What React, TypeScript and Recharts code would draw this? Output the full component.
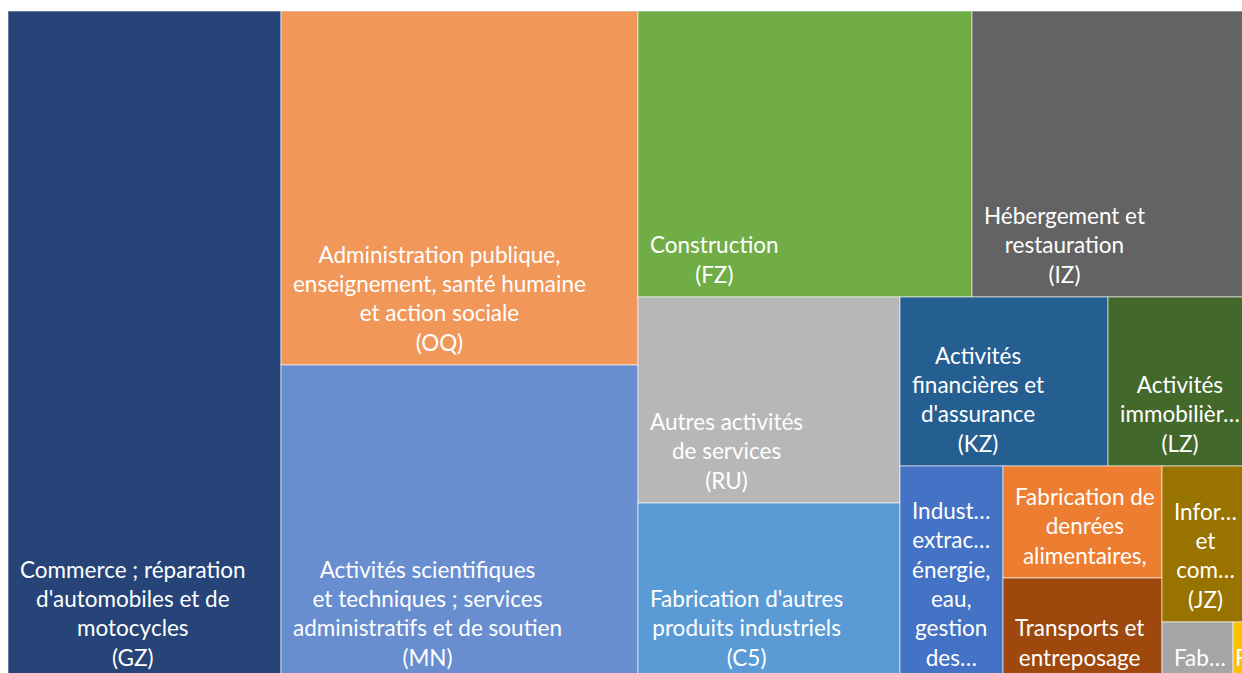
import React from "react";
import { Treemap } from "recharts";

// secteurs (codes A17), dans l'ordre du plus grand au plus petit
const codes = ["GZ", "OQ", "MN", "FZ", "IZ", "RU", "C5", "KZ", "LZ", "DE", "C1", "HZ", "JZ", "C3", "C4"];

const names = [
  "Commerce ; réparation d'automobiles et de motocycles",
  "Administration publique, enseignement, santé humaine et action sociale",
  "Activités scientifiques et techniques ; services administratifs et de soutien",
  "Construction",
  "Hébergement et restauration",
  "Autres activités de services",
  "Fabrication d'autres produits industriels",
  "Activités financières et d'assurance",
  "Activités immobilières",
  "Industries extractives, énergie, eau, gestion des déchets et dépollution",
  "Fabrication de denrées alimentaires, boissons et produits à base de tabac",
  "Transports et entreposage",
  "Information et communication",
  "Fabrication d'équipements électriques, électroniques, informatiques ; fabrication de machines",
  "Fabrication de matériels de transport",
];

const values = [1826, 1264, 1125, 955, 801, 540, 464, 352, 243, 220, 178, 162, 140, 41, 9];

// libellés tels qu'affichés (retours à la ligne et troncatures)
const labelLines = [
  ["Commerce ; réparation", "d'automobiles et de", "motocycles", "(GZ)"],
  ["Administration publique,", "enseignement, santé humaine", "et action sociale", "(OQ)"],
  ["Activités scientifiques", "et techniques ; services", "administratifs et de soutien", "(MN)"],
  ["Construction", "(FZ)"],
  ["Hébergement et", "restauration", "(IZ)"],
  ["Autres activités", "de services", "(RU)"],
  ["Fabrication d'autres", "produits industriels", "(C5)"],
  ["Activités", "financières et", "d'assurance", "(KZ)"],
  ["Activités", "immobilièr…", "(LZ)"],
  ["Indust…", "extrac…", "énergie,", "eau,", "gestion", "des…"],
  ["Fabrication de", "denrées", "alimentaires,"],
  ["Transports et", "entreposage"],
  ["Infor…", "et", "com…", "(JZ)"],
  ["Fab…"],
  ["F"],
];

const colors = [
  "#264478", "#F1975A", "#698ED0", "#70AD47", "#636363", "#B7B7B7", "#5B9BD5",
  "#255E91", "#43682B", "#4472C4", "#ED7D31", "#9E480E", "#997300", "#A5A5A5", "#FFC000",
];

const data = codes.map((code, i) => ({
  code,
  name: names[i],
  value: values[i],
  lines: labelLines[i],
  color: colors[i],
}));

const FONT = "Lato";
const FONT_SIZE = 22.5;
const LINE_H = 29.3;

let ctx: CanvasRenderingContext2D | null = null;
function textWidth(s: string) {
  if (!ctx && typeof document !== "undefined") {
    ctx = document.createElement("canvas").getContext("2d");
  }
  if (!ctx) return s.length * FONT_SIZE * 0.5;
  ctx.font = `${FONT_SIZE}px ${FONT}`;
  return ctx.measureText(s).width;
}

function Cell(props: any) {
  const { x, y, width, height, depth, color, lines } = props;
  if (depth !== 1 || !lines) return <g />;
  const n = lines.length;
  const maxW = Math.max(...lines.map((l: string) => textWidth(l)));
  const narrow = width < 40;
  const cx = narrow ? x + 2 : x + 12 + maxW / 2;
  const lastY = y + height - 23;
  return (
    <g>
      <rect x={x} y={y} width={width} height={height} fill={color} stroke="#ffffff" strokeOpacity={0.6} strokeWidth={1} />
      {lines.map((l: string, i: number) => (
        <text
          key={i}
          x={cx}
          y={lastY - (n - 1 - i) * LINE_H}
          textAnchor={narrow ? "start" : "middle"}
          dominantBaseline="central"
          fill="#ffffff"
          fontFamily={FONT}
          fontSize={FONT_SIZE}
        >
          {l}
        </text>
      ))}
    </g>
  );
}

export default function App() {
  return (
    <div style={{ position: "fixed", left: 8, top: 11, width: 1234, height: 662, overflow: "hidden", background: "#fff" }}>
      <Treemap
        width={1244}
        height={669}
        data={data}
        dataKey="value"
        nameKey="name"
        aspectRatio={0.8}
        isAnimationActive={false}
        content={<Cell />}
      />
    </div>
  );
}
